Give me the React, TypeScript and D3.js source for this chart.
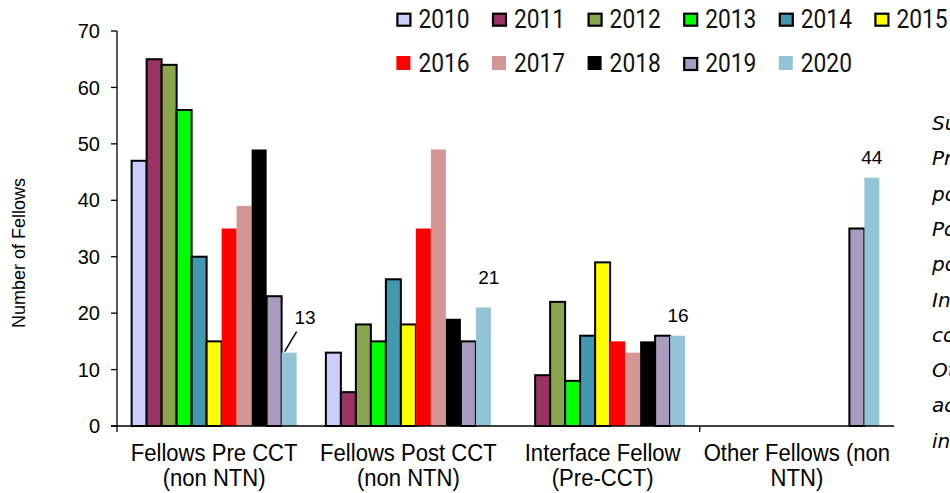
import React from "react";
import * as d3 from "d3";

const categories = ["Fellows Pre CCT|(non NTN)", "Fellows Post CCT|(non NTN)", "Interface Fellow|(Pre-CCT)", "Other Fellows (non|NTN)"];
const years = ["2010", "2011", "2012", "2013", "2014", "2015", "2016", "2017", "2018", "2019", "2020"];
const colors = ["#CCCCFF", "#993366", "#89A54E", "#00FF00", "#4198AF", "#FFFF00", "#FF0000", "#D69595", "#000000", "#A99BBD", "#93C4D5"];
const outlined = [true, true, true, true, true, true, false, false, false, true, false];
// values per category, in year order (null = no bar)
const preCCT = [47, 65, 64, 56, 30, 15, 35, 39, 49, 23, 13];
const postCCT = [13, 6, 18, 15, 26, 18, 35, 49, 19, 15, 21];
const interfaceF = [null, 9, 22, 8, 16, 29, 15, 13, 15, 16, 16];
const otherF = [null, null, null, null, null, null, null, null, null, 35, 44];
const seriesByCat = [preCCT, postCCT, interfaceF, otherF];
const yTicks = [0, 10, 20, 30, 40, 50, 60, 70];
const sideNotes = ["Summary", "Pre CCT", "posts", "Post CCT", "posts", "Interface", "combined", "Other", "academic", "including"];

const W = 950, H = 493;
const AX = { left: 117, right: 894, top: 31, bottom: 426 };

export default function App() {
  const x0 = d3.scaleBand<number>().domain(categories.map((_, i) => i)).range([AX.left, AX.right]).padding(0);
  const bw = x0.bandwidth();
  const barW = 15;
  const po = (bw / barW - years.length) / 2;
  const x1 = d3.scaleBand<number>().domain(years.map((_, i) => i)).range([0, bw]).paddingInner(0).paddingOuter(po);
  const y = d3.scaleLinear().domain([0, 70]).range([AX.bottom, AX.top]);

  const bars: any[] = [];
  seriesByCat.forEach((vals, ci) => {
    vals.forEach((v, yi) => {
      if (v == null) return;
      bars.push({ ci, yi, v });
    });
  });

  const labelFont = "'Liberation Sans', Arial, sans-serif";
  const legendCols = [396.4, 492, 587.6, 683.2, 778.8, 874.4];

  return (
    <svg width={W} height={H} style={{ position: "absolute", left: 0, top: 0, display: "block", background: "#fff" }}>
      {/* bars */}
      {bars.map((b, i) => {
        const bx = (x0(b.ci) as number) + (x1(b.yi) as number);
        const by = y(b.v);
        return (
          <rect key={i} x={bx} y={by} width={x1.bandwidth()} height={y(0) - by}
            fill={colors[b.yi]} stroke={outlined[b.yi] ? "#000" : "none"} strokeWidth={2} />
        );
      })}
      {/* axes */}
      <line x1={AX.left} x2={AX.left} y1={y(70)} y2={AX.bottom + 6} stroke="#000" strokeWidth={1.3} />
      <line x1={AX.left - 6} x2={AX.right} y1={y(0)} y2={y(0)} stroke="#000" strokeWidth={1.3} />
      {yTicks.map((t) => (
        <g key={t}>
          <line x1={AX.left - 6} x2={AX.left} y1={y(t)} y2={y(t)} stroke="#000" strokeWidth={1.3} />
          <text x={100} y={y(t)} dy="0.36em" textAnchor="end" fontFamily={labelFont} fontSize={20} fill="#000">{t}</text>
        </g>
      ))}
      <line x1={x0(3)} x2={x0(3)} y1={y(0)} y2={y(0) + 6} stroke="#000" strokeWidth={1.3} />
      {/* category labels */}
      {categories.map((c, i) => {
        const cx = (x0(i) as number) + bw / 2;
        return c.split("|").map((ln, j) => (
          <text key={i + "-" + j} transform={`translate(${cx},${461 + j * 25}) scale(0.92,1)`} textAnchor="middle"
            fontFamily={labelFont} fontSize={24} fill="#000">{ln}</text>
        ));
      })}
      {/* y title */}
      <text transform={`translate(25,253) rotate(-90)`} textAnchor="middle" fontFamily={labelFont} fontSize={18} fill="#000">Number of Fellows</text>
      {/* data labels */}
      <line x1={(x0(0) as number) + (x1(10) as number) + 3} y1={y(13) - 1} x2={(x0(0) as number) + (x1(10) as number) + 15} y2={y(13) - 21} stroke="#000" strokeWidth={1.5} />
      <text x={305} y={324} textAnchor="middle" fontFamily={labelFont} fontSize={19}>{preCCT[10]}</text>
      <text x={(x0(1) as number) + (x1(10) as number) + 13} y={y(postCCT[10]) - 24} textAnchor="middle" fontFamily={labelFont} fontSize={19}>{postCCT[10]}</text>
      <text x={(x0(2) as number) + (x1(10) as number) + 8} y={y(interfaceF[10] as number) - 14} textAnchor="middle" fontFamily={labelFont} fontSize={19}>{interfaceF[10]}</text>
      <text x={(x0(3) as number) + (x1(10) as number) + 7.5} y={y(otherF[10] as number) - 14} textAnchor="middle" fontFamily={labelFont} fontSize={19}>{otherF[10]}</text>
      {/* legend */}
      {years.map((yr, i) => {
        const row = i < 6 ? 0 : 1;
        const col = i < 6 ? i : i - 6;
        const sx = legendCols[col];
        const base = row === 0 ? 27.7 : 72;
        return (
          <g key={yr}>
            {outlined[i] ? (
              <rect x={sx + 1} y={base - 14} width={13} height={12} fill={colors[i]} stroke="#000" strokeWidth={2.2} />
            ) : (
              <rect x={sx} y={base - 16} width={14} height={14} fill={colors[i]} />
            )}
            <text transform={`translate(${sx + 22},${base}) scale(0.91,1)`} fontFamily="Roboto, sans-serif" fontSize={25} fill="#111">{yr}</text>
          </g>
        );
      })}
      {/* side notes (clipped at right edge, as in the reference) */}
      {sideNotes.map((s, i) => (
        <text key={i} x={932} y={130 + i * 35.3} fontFamily="'DejaVu Sans', sans-serif" fontStyle="italic" fontSize={20} fill="#000">{s}</text>
      ))}
    </svg>
  );
}
